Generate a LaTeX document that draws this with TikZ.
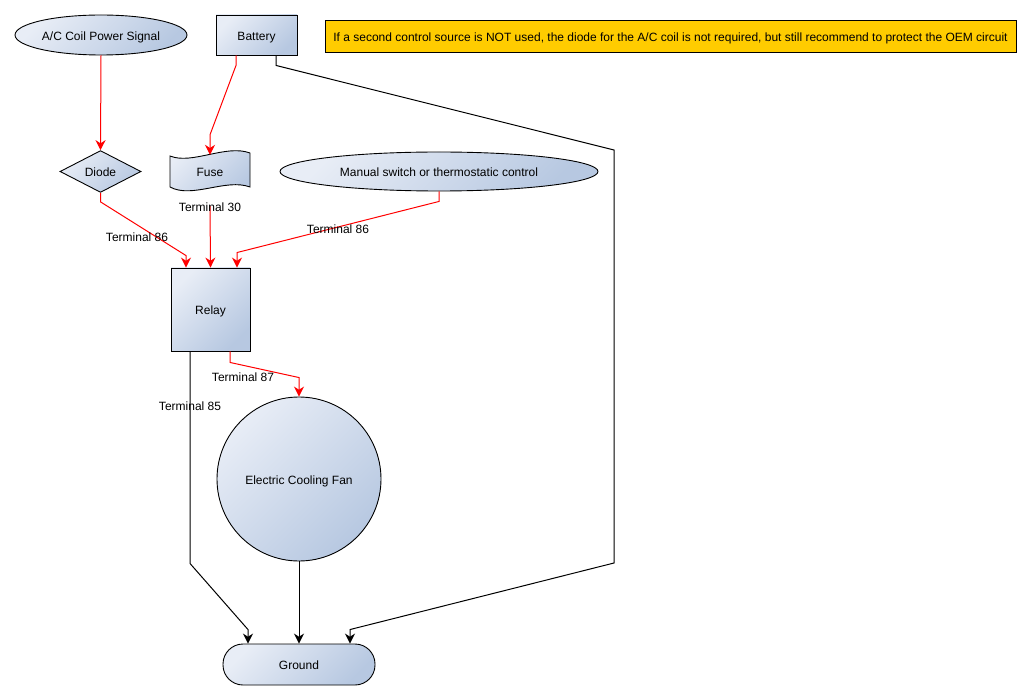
\documentclass[tikz,border=0pt]{standalone}
\usepackage{fontspec}
\setmainfont{Liberation Sans}
\usetikzlibrary{shapes.geometric,arrows.meta}
\definecolor{gl}{HTML}{E8EDF6}
\definecolor{gd}{HTML}{B7C8E1}
\definecolor{notey}{HTML}{FFCC00}
\definecolor{wirered}{HTML}{FF0000}
\tikzset{
  txt/.style={font=\fontsize{12}{14}\selectfont, text height=10.5pt, text depth=0pt},
  shapebox/.style={draw=black, line width=0.9pt, top color=gl, bottom color=gd, shading angle=45, inner sep=0pt, txt},
  redwire/.style={draw=wirered, line width=1pt, -{Stealth[length=10pt,width=10pt]}},
  blackwire/.style={draw=black, line width=1pt, -{Stealth[length=10pt,width=10pt]}},
  termlabel/.style={txt, inner sep=0pt},
}
\begin{document}
\begin{tikzpicture}[x=1pt,y=-1pt]
\useasboundingbox (0,0) rectangle (1032,700);
% nodes
\node[shapebox, ellipse, minimum width=172pt, minimum height=40pt] (acsig) at (101,35) {A/C Coil Power Signal};
\node[shapebox, rectangle, minimum width=81pt, minimum height=40pt] (batt) at (256.5,35) {Battery};
\node[draw=black, line width=0.9pt, fill=notey, minimum width=691pt, minimum height=32pt, inner sep=0pt, txt] (note) at (670.5,36) {If a second control source is NOT used, the diode for the A/C coil is not required, but still recommend to protect the OEM circuit};
\node[shapebox, diamond, minimum width=81pt, minimum height=39pt] (diode) at (100.5,171.5) {Diode};
% fuse (tape shape)
\shadedraw[draw=black, line width=0.9pt, top color=gl, bottom color=gd, shading angle=45]
  (170,156) .. controls (192,165) and (226,144) .. (250,153)
  -- (250,187) .. controls (226,178) and (192,199) .. (170,187) -- cycle;
\node[rectangle, minimum width=80pt, minimum height=39pt, inner sep=0pt, txt] (fuse) at (210,171.5) {Fuse};
\node[shapebox, ellipse, minimum width=318pt, minimum height=39pt] (manual) at (439,171.5) {Manual switch or thermostatic control};
\node[shapebox, rectangle, minimum width=79pt, minimum height=83pt] (relay) at (210.5,309.5) {Relay};
\node[shapebox, circle, minimum size=164pt] (fan) at (299,479) {Electric Cooling Fan};
\node[shapebox, rectangle, rounded corners=20pt, minimum width=152pt, minimum height=41pt] (ground) at (299,664.5) {Ground};
% connectors
\draw[redwire] (acsig.south) -- (diode.north);
\draw[redwire] ([xshift=-20.5pt]batt.south) -- ++(0,10) -- ([yshift=17pt]fuse.north) -- ([yshift=-3pt]fuse.north);
\draw[blackwire] ([xshift=19.5pt]batt.south) -- ++(0,10) -- (614,150) -- (614,563) -- ([xshift=51pt,yshift=14pt]ground.north) -- ([xshift=51pt]ground.north);
\draw[redwire] (diode.south) -- ++(0,9) -- ([xshift=-24.5pt,yshift=12pt]relay.north) -- ([xshift=-24.5pt]relay.north);
\draw[redwire] ([yshift=-15pt]fuse.south) -- (relay.north);
\draw[redwire] (manual.south) -- ++(0,10) -- ([xshift=26.5pt,yshift=15pt]relay.north) -- ([xshift=26.5pt]relay.north);
\draw[redwire] ([xshift=19.5pt]relay.south) -- ++(0,11) -- ([yshift=19pt]fan.north) -- (fan.north);
\draw[blackwire] ([xshift=-20.5pt]relay.south) -- ++(0,212) -- ([xshift=-51pt,yshift=14pt]ground.north) -- ([xshift=-51pt]ground.north);
\draw[blackwire] (fan.south) -- (ground.north);
% labels
\node[termlabel] (l86a) at (137,236) {Terminal 86};
\node[termlabel] (l30) at (210,206) {Terminal 30};
\node[termlabel] (l86b) at (338,228) {Terminal 86};
\node[termlabel] (l87) at (243,376) {Terminal 87};
\node[termlabel] (l85) at (190,405) {Terminal 85};
\end{tikzpicture}
\end{document}
